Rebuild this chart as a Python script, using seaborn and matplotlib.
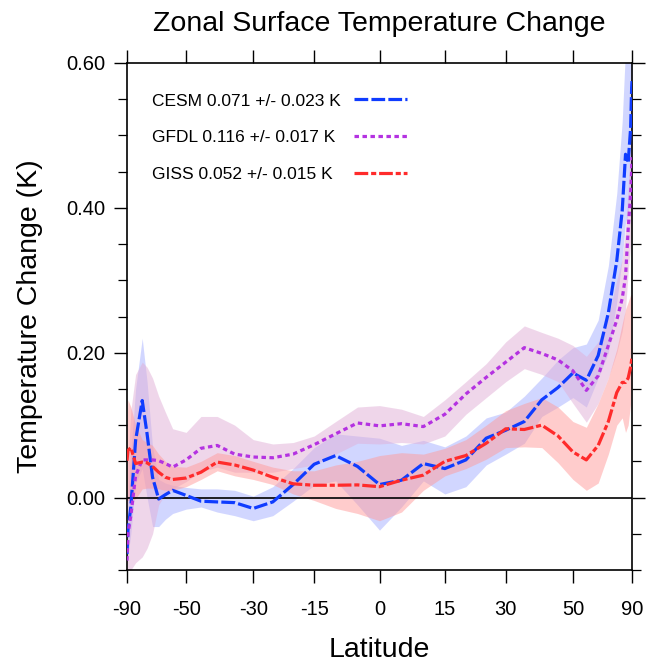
import numpy as np
import pandas as pd
import matplotlib
matplotlib.use("Agg")
import matplotlib.pyplot as plt
from matplotlib.ticker import MultipleLocator, NullLocator, FixedLocator
import seaborn as sns

# ---------------- data ----------------
lat = [-90, -85, -80, -75, -70, -67, -64, -61, -58, -55, -50, -45, -40, -35, -30,
       -25, -20, -15, -10, -5, 0, 5, 10, 15, 20, 25, 30, 35, 40, 45, 50, 55, 60,
       65, 70, 74, 77, 80, 84, 87, 90]

cesm = [-0.078, -0.045, -0.013, 0.079, 0.134, 0.088, 0.028, -0.002, 0.004, 0.010,
        0.003, -0.005, -0.006, -0.007, -0.015, -0.006, 0.018, 0.046, 0.058, 0.043,
        0.018, 0.024, 0.047, 0.040, 0.052, 0.082, 0.093, 0.105, 0.135, 0.152, 0.172,
        0.162, 0.196, 0.255, 0.327, 0.396, 0.474, 0.462, 0.510, 0.566, 0.575]
cesm_lo = [-0.09, -0.08, -0.05, 0.02, 0.04, 0.0, -0.04, -0.04, -0.03, -0.022,
           -0.016, -0.013, -0.02, -0.025, -0.032, -0.025, -0.005, 0.017, 0.023, -0.01,
           -0.045, -0.013, 0.023, 0.005, 0.015, 0.045, 0.06, 0.075, 0.112, 0.125, 0.138,
           0.125, 0.165, 0.20, 0.27, 0.33, 0.38, 0.39, 0.42, 0.48, 0.50]
cesm_hi = [-0.06, 0.0, 0.06, 0.15, 0.22, 0.16, 0.07, 0.025, 0.02, 0.017,
           0.014, 0.012, 0.012, 0.010, 0.002, 0.015, 0.04, 0.069, 0.088, 0.085,
           0.082, 0.072, 0.079, 0.07, 0.085, 0.11, 0.118, 0.14, 0.165, 0.19, 0.207,
           0.212, 0.245, 0.32, 0.42, 0.52, 0.62, 0.65, 0.68, 0.70, 0.70]

gfdl = [-0.087, -0.05, -0.025, 0.030, 0.052, 0.052, 0.052, 0.051, 0.047, 0.042,
        0.052, 0.068, 0.072, 0.060, 0.056, 0.055, 0.060, 0.073, 0.088, 0.103,
        0.099, 0.102, 0.098, 0.115, 0.143, 0.166, 0.187, 0.207, 0.199, 0.190, 0.175,
        0.148, 0.168, 0.210, 0.245, 0.275, 0.305, 0.370, 0.420, 0.451, 0.470]
gfdl_lo = [-0.10, -0.10, -0.10, -0.09, -0.082, -0.07, -0.05, -0.01, 0.005, 0.012,
           0.022, 0.036, 0.042, 0.035, 0.035, 0.035, 0.040, 0.045, 0.060, 0.075,
           0.074, 0.076, 0.074, 0.085, 0.115, 0.138, 0.160, 0.178, 0.170, 0.160, 0.130,
           0.104, 0.130, 0.165, 0.200, 0.230, 0.260, 0.310, 0.350, 0.380, 0.400]
gfdl_hi = [-0.06, 0.05, 0.12, 0.17, 0.187, 0.18, 0.165, 0.14, 0.118, 0.095,
           0.090, 0.112, 0.112, 0.100, 0.080, 0.074, 0.076, 0.085, 0.105, 0.125,
           0.127, 0.122, 0.112, 0.135, 0.160, 0.185, 0.215, 0.237, 0.228, 0.220, 0.210,
           0.195, 0.215, 0.250, 0.300, 0.330, 0.370, 0.430, 0.500, 0.560, 0.600]

giss = [0.051, 0.065, 0.069, 0.047, 0.049, 0.048, 0.043, 0.035, 0.028, 0.025,
        0.027, 0.035, 0.049, 0.045, 0.038, 0.028, 0.019, 0.017, 0.017, 0.0175,
        0.015, 0.024, 0.031, 0.050, 0.058, 0.075, 0.095, 0.094, 0.100, 0.085, 0.063,
        0.052, 0.072, 0.105, 0.145, 0.159, 0.159, 0.165, 0.180, 0.190, 0.195]
giss_lo = [-0.004, -0.004, -0.004, -0.002, 0.012, 0.013, 0.013, 0.012, 0.010, 0.010,
           0.015, 0.025, 0.037, 0.030, 0.025, 0.018, 0.005, -0.004, -0.015, -0.022,
           -0.032, -0.020, 0.010, 0.030, 0.040, 0.053, 0.069, 0.070, 0.069, 0.048, 0.025,
           0.010, 0.020, 0.060, 0.100, 0.110, 0.090, 0.100, 0.130, 0.150, 0.150]
giss_hi = [0.10, 0.135, 0.125, 0.10, 0.08, 0.076, 0.072, 0.06, 0.05, 0.043,
           0.042, 0.050, 0.062, 0.058, 0.050, 0.042, 0.037, 0.037, 0.045, 0.050,
           0.058, 0.062, 0.060, 0.068, 0.080, 0.100, 0.120, 0.130, 0.138, 0.125, 0.105,
           0.097, 0.130, 0.165, 0.205, 0.240, 0.260, 0.270, 0.280, 0.280, 0.280]

labels = ["CESM 0.071 +/- 0.023 K", "GFDL 0.116 +/- 0.017 K", "GISS 0.052 +/- 0.015 K"]
xticks = [-90, -50, -30, -15, 0, 15, 30, 50, 90]
xticklabels = ["-90", "-50", "-30", "-15", "0", "15", "30", "50", "90"]
yticks = [0.0, 0.2, 0.4, 0.6]
yticklabels = ["0.00", "0.20", "0.40", "0.60"]

# ---------------- styling ----------------
line_colors = ["#0F3CFF", "#B432E1", "#FF2B2B"]
band_colors = ["#A5AFFF", "#E1AFD7", "#FF9B9B"]
dash_styles = [(4.3, 1.0), (1.4, 1.1), (4.3, 0.9, 1.6, 0.9)]

sns.set_style("ticks")
plt.rcParams["font.family"] = ["Liberation Sans", "DejaVu Sans"]
plt.rcParams["text.color"] = "black"
plt.rcParams["axes.labelcolor"] = "black"
plt.rcParams["xtick.color"] = "black"
plt.rcParams["ytick.color"] = "black"

n = len(lat)
df = pd.DataFrame({
    "lat": lat * 3,
    "value": cesm + gfdl + giss,
    "model": [labels[0]] * n + [labels[1]] * n + [labels[2]] * n,
})

fig = plt.figure(figsize=(6.47, 6.62), dpi=100)
ax = fig.add_axes([127 / 647, 1 - 570 / 662, 505 / 647, 507 / 662])

bands = [(cesm_lo, cesm_hi), (gfdl_lo, gfdl_hi), (giss_lo, giss_hi)]
for (lo, hi), c in zip(bands, band_colors):
    ax.fill_between(lat, lo, hi, color=c, alpha=0.5, linewidth=0, zorder=1)

ax.axhline(0, color="black", linewidth=1.2, zorder=2)

sns.lineplot(data=df, x="lat", y="value", hue="model", style="model",
             palette=dict(zip(labels, line_colors)),
             dashes=dict(zip(labels, dash_styles)),
             estimator=None, errorbar=None, linewidth=2.3,
             legend=False, ax=ax, zorder=3)

# sine-of-latitude x axis
def fwd(x):
    return np.sin(np.radians(x))

def inv(x):
    return np.degrees(np.arcsin(np.clip(x, -1, 1)))

ax.set_xscale("function", functions=(fwd, inv))
ax.set_xlim(-90, 90)
ax.set_ylim(-0.1, 0.6)
ax.xaxis.set_major_locator(FixedLocator(xticks))
ax.set_xticklabels(xticklabels)
ax.xaxis.set_minor_locator(NullLocator())
ax.set_yticks(yticks)
ax.set_yticklabels(yticklabels)
ax.yaxis.set_minor_locator(MultipleLocator(0.05))

for s in ax.spines.values():
    s.set_linewidth(1.2)
    s.set_color("black")

ax.tick_params(which="major", direction="out", length=9.5, width=1.0,
               top=True, right=True, labelsize=14.5, pad=6, colors="black")
ax.tick_params(axis="x", which="major", pad=12)
ax.tick_params(axis="y", which="minor", direction="out", length=6.5, width=0.9,
               left=True, right=True)

ax.set_xlabel("Latitude", fontsize=20.5, labelpad=13)
ax.set_ylabel("Temperature Change (K)", fontsize=20.5, labelpad=17)
ax.set_title("Zonal Surface Temperature Change", fontsize=20.5, pad=23)

handles = ax.get_lines()[1:4]
leg = ax.legend(handles, labels, loc="upper left", bbox_to_anchor=(0.049, 0.94),
                frameon=False, fontsize=12.5, markerfirst=False, handlelength=3.1,
                handletextpad=0.75, labelspacing=1.24, borderpad=0, borderaxespad=0)

# left-align legend texts while keeping the line samples in one column
fig.canvas.draw()
renderer = fig.canvas.get_renderer()
widths = [t.get_window_extent(renderer).width for t in leg.get_texts()]
wmax = max(widths)
column = leg._legend_handle_box.get_children()[0]
for item, w in zip(column.get_children(), widths):
    item.sep = item.sep + (wmax - w) * 72.0 / fig.dpi

fig.savefig("out.png", dpi=100)
